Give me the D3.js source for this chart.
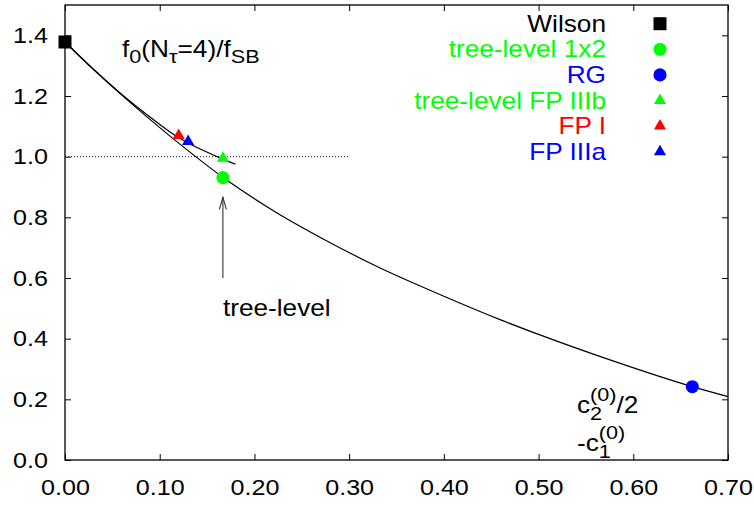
<!DOCTYPE html>
<html>
<head>
<meta charset="utf-8">
<script src="https://cdn.jsdelivr.net/npm/d3@7"></script>
<style>
  body { margin: 0; background: #fff; }
  svg { display: block; font-family: "Liberation Sans", Arial, sans-serif; }
</style>
</head>
<body>
<svg id="chart" width="754" height="505"></svg>
<script>
// ticks
const xTicks = [0, 0.1, 0.2, 0.3, 0.4, 0.5, 0.6, 0.7];
const yTicks = [0, 0.2, 0.4, 0.6, 0.8, 1.0, 1.2, 1.4];

// fitted curve through all actions
const mainCurveX = [0, 0.03, 0.06, 0.09, 0.1359, 0.1667, 0.22, 0.28, 0.33, 0.40, 0.46, 0.50, 0.58, 0.6623, 0.70];
const mainCurveY = [1.378, 1.288, 1.203, 1.122, 1.005, 0.932, 0.822, 0.7165, 0.637, 0.54, 0.462, 0.414, 0.325, 0.2417, 0.2087];

// second curve through the fixed point actions
const fpCurveX = [0, 0.03, 0.06, 0.09, 0.1193, 0.13, 0.1667, 0.18];
const fpCurveY = [1.378, 1.288, 1.205, 1.13, 1.064, 1.045, 0.992, 0.975];

// data points / legend
const pointNames = ["Wilson", "tree-level 1x2", "RG", "tree-level FP IIIb", "FP I", "FP IIIa"];
const pointX = [0, 0.1667, 0.6623, 0.1667, 0.12, 0.13];
const pointY = [1.378, 0.931, 0.2417, 0.995, 1.07, 1.05];
const pointColors = ["#000000", "#00ff00", "#0000ff", "#00ff00", "#ff0000", "#0000ff"];
const pointShapes = ["square", "circle", "circle", "triangle", "triangle", "triangle"];

const W = 754, H = 505;
const margin = { top: 5, right: 26, bottom: 45, left: 65 };
const stretch = 1.14; // text in the original is slightly wide

const svg = d3.select("#chart");
const x = d3.scaleLinear().domain([0, 0.7]).range([margin.left, W - margin.right]);
const y = d3.scaleLinear().domain([0, 1.5]).range([H - margin.bottom, margin.top]);

const symbolFor = {
  square: d3.symbol().type(d3.symbolSquare).size(169),
  circle: d3.symbol().type(d3.symbolCircle).size(135),
  triangle: d3.symbol().type(d3.symbolTriangle).size(64)
};

// dotted reference line at 1
svg.append("line")
  .attr("x1", x(0)).attr("x2", x(0.3))
  .attr("y1", y(1)).attr("y2", y(1))
  .attr("stroke", "#000").attr("stroke-width", 0.9)
  .attr("stroke-dasharray", "1,2");

// axes (ticks inward, mirrored)
const fmtX = d3.format(".2f"), fmtY = d3.format(".1f");
const bottom = svg.append("g").attr("transform", `translate(0,${y(0)})`)
  .call(d3.axisBottom(x).tickValues(xTicks).tickFormat(fmtX).tickSizeInner(-6).tickSizeOuter(0).tickPadding(19));
const left = svg.append("g").attr("transform", `translate(${x(0)},0)`)
  .call(d3.axisLeft(y).tickValues(yTicks).tickFormat(fmtY).tickSizeInner(-6).tickSizeOuter(0).tickPadding(15));
svg.append("g").attr("transform", `translate(0,${y(1.5)})`)
  .call(d3.axisTop(x).tickValues(xTicks).tickFormat("").tickSizeInner(-6).tickSizeOuter(0));
svg.append("g").attr("transform", `translate(${x(0.7)},0)`)
  .call(d3.axisRight(y).tickValues(yTicks).tickFormat("").tickSizeInner(-6).tickSizeOuter(0));

svg.selectAll(".domain").remove();
svg.selectAll(".tick line").attr("stroke", "#000").attr("stroke-width", 1);
[bottom, left].forEach(a => a.selectAll(".tick text")
  .attr("font-size", 22).attr("font-family", "Liberation Sans, Arial, sans-serif")
  .attr("fill", "#000").attr("transform", `scale(${stretch},1)`));

svg.append("rect")
  .attr("x", x(0)).attr("y", y(1.5))
  .attr("width", x(0.7) - x(0)).attr("height", y(0) - y(1.5))
  .attr("fill", "none").attr("stroke", "#000").attr("stroke-width", 1.3);

// curves
const line = d3.line().x(d => x(d[0])).y(d => y(d[1])).curve(d3.curveMonotoneX);
svg.append("path").datum(d3.zip(mainCurveX, mainCurveY))
  .attr("d", line).attr("fill", "none").attr("stroke", "#000").attr("stroke-width", 1.2);
svg.append("path").datum(d3.zip(fpCurveX, fpCurveY))
  .attr("d", line).attr("fill", "none").attr("stroke", "#000").attr("stroke-width", 1.2);

// points
svg.append("g").selectAll("path").data(pointNames).join("path")
  .attr("transform", (d, i) => `translate(${x(pointX[i])},${y(pointY[i])})`)
  .attr("d", (d, i) => symbolFor[pointShapes[i]]())
  .attr("fill", (d, i) => pointColors[i]);

// legend
const legend = svg.append("g");
pointNames.forEach((name, i) => {
  const base = 31.7 + i * 25.6;
  legend.append("g").attr("transform", `translate(606,${base}) scale(${stretch},1)`)
    .append("text").attr("text-anchor", "end").attr("font-size", 23)
    .attr("fill", pointColors[i]).text(name);
  legend.append("path")
    .attr("transform", `translate(660,${base - 8})`)
    .attr("d", symbolFor[pointShapes[i]]())
    .attr("fill", pointColors[i]);
});

// arrow + "tree-level"
const ax = x(0.1667);
svg.append("line").attr("x1", ax).attr("x2", ax).attr("y1", y(0.6)).attr("y2", y(0.866))
  .attr("stroke", "#333").attr("stroke-width", 1.1);
svg.append("path")
  .attr("d", `M${ax - 3.5},${y(0.866) + 12} L${ax},${y(0.866)} L${ax + 3.5},${y(0.866) + 12}`)
  .attr("fill", "none").attr("stroke", "#333").attr("stroke-width", 1.1);
svg.append("g").attr("transform", `translate(${ax},316) scale(${stretch},1)`)
  .append("text").attr("font-size", 23).attr("fill", "#000").text("tree-level");

// rich text: parts placed one after another; stacked sub/sup share a start
function richText(x0, y0, parts) {
  const g = svg.append("g").attr("transform", `translate(${x0},${y0}) scale(${stretch},1)`);
  let cx = 0, stackStart = null, stackW = 0;
  parts.forEach(p => {
    const startX = p.stack === "second" ? stackStart : cx;
    const t = g.append("text").attr("x", startX).attr("y", p.dy || 0)
      .attr("font-size", p.size || 23).attr("fill", "#000").text(p.t);
    const w = t.node().getComputedTextLength();
    if (p.stack === "first") { stackStart = cx; stackW = w; }
    else if (p.stack === "second") { cx = stackStart + Math.max(stackW, w); }
    else cx += w;
  });
}

richText(122, 57, [
  { t: "f" }, { t: "0", size: 19, dy: 6 }, { t: "(N" }, { t: "τ", size: 19, dy: 6 },
  { t: "=4)/f" }, { t: "SB", size: 19, dy: 6 }
]);
richText(577, 413, [
  { t: "c" }, { t: "2", size: 19, dy: 7, stack: "first" }, { t: "(0)", size: 19, dy: -12, stack: "second" }, { t: "/2" }
]);
richText(577, 451, [
  { t: "-c" }, { t: "1", size: 19, dy: 7, stack: "first" }, { t: "(0)", size: 19, dy: -12, stack: "second" }
]);
</script>
</body>
</html>
